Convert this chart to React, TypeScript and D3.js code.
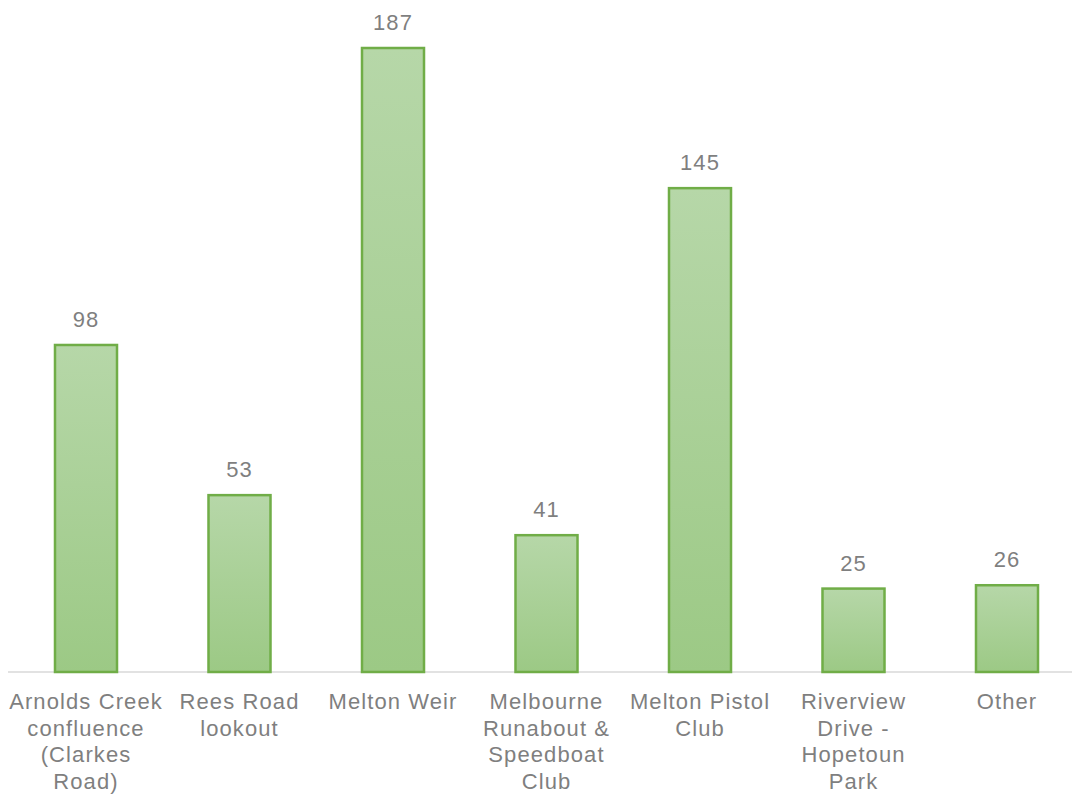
import React from "react";
import * as d3 from "d3";

const categories: string[][] = [
  ["Arnolds Creek", "confluence", "(Clarkes", "Road)"],
  ["Rees Road", "lookout"],
  ["Melton Weir"],
  ["Melbourne", "Runabout &", "Speedboat", "Club"],
  ["Melton Pistol", "Club"],
  ["Riverview", "Drive -", "Hopetoun", "Park"],
  ["Other"],
];
const values: number[] = [98, 53, 187, 41, 145, 25, 26];

const W = 1072;
const H = 799;
const left = 9.25;
const step = 153.5;
const baseY = 672;
const topY = 48;

export default function App() {
  const idx = values.map((_, i) => String(i));
  const x = d3
    .scaleBand<string>()
    .domain(idx)
    .range([left, left + step * values.length])
    .paddingInner(0.596)
    .paddingOuter(0.298);
  const y = d3.scaleLinear().domain([0, 187]).range([baseY, topY]);
  const font = "'Liberation Sans', Arial, sans-serif";
  const txt = "#7f7f7f";
  return (
    <svg
      width={W}
      height={H}
      style={{ position: "absolute", left: 0, top: 0 }}
    >
      <defs>
        <linearGradient id="g" x1="0" y1="0" x2="0" y2="1">
          <stop offset="0" stopColor="#b6d7a8" />
          <stop offset="1" stopColor="#9cc985" />
        </linearGradient>
      </defs>
      <rect width={W} height={H} fill="#fff" />
      <line x1={8} x2={W} y1={baseY} y2={baseY} stroke="#d9d9d9" strokeWidth={1.5} />
      {values.map((v, i) => {
        const bx = x(String(i))!;
        const bw = x.bandwidth();
        const cx = bx + bw / 2;
        return (
          <g key={i}>
            <rect
              x={bx}
              y={y(v)}
              width={bw}
              height={baseY - y(v)}
              fill="url(#g)"
              stroke="#70ad47"
              strokeWidth={2.5}
            />
            <text
              x={cx}
              y={y(v) - 18}
              textAnchor="middle"
              fontFamily={font}
              fontSize={22}
              letterSpacing={1.1}
              fill={txt}
            >
              {v}
            </text>
            {categories[i].map((line, j) => (
              <text
                key={j}
                x={cx}
                y={709 + j * 26.7}
                textAnchor="middle"
                fontFamily={font}
                fontSize={22}
                letterSpacing={1.1}
                fill={txt}
              >
                {line}
              </text>
            ))}
          </g>
        );
      })}
    </svg>
  );
}
